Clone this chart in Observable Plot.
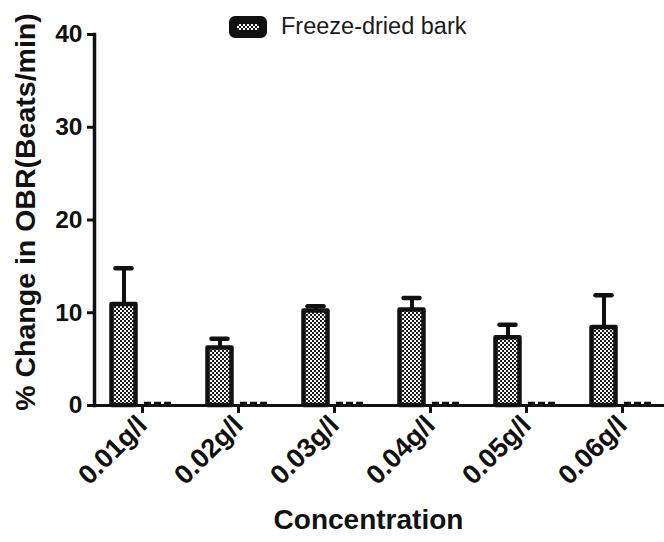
<!DOCTYPE html>
<html>
<head>
<meta charset="utf-8">
<script src="https://cdn.jsdelivr.net/npm/d3@7"></script>
<script src="https://cdn.jsdelivr.net/npm/@observablehq/plot@0.6"></script>
<style>
  html, body { margin: 0; padding: 0; background: #fff; }
  #wrap { position: relative; width: 664px; height: 542px; font-family: "Liberation Sans", Arial, sans-serif; }
  #legend { position: absolute; left: 229px; top: 13px; display: flex; align-items: center; gap: 14px; font-size: 23.5px; color: #1a1a1a; }
  #legend svg { display: block; }
</style>
</head>
<body>
<svg width="0" height="0" style="position:absolute">
  <defs>
    <pattern id="chk" patternUnits="userSpaceOnUse" width="4" height="4">
      <rect width="4" height="4" fill="#fff"/>
      <rect x="0" y="0" width="2" height="2" fill="#1a1a1a"/>
      <rect x="2" y="2" width="2" height="2" fill="#1a1a1a"/>
    </pattern>
  </defs>
</svg>
<div id="wrap">
  <div id="legend">
    <svg width="38" height="22"><rect x="4" y="4" width="30" height="14" rx="2" fill="url(#chk)" stroke="#111" stroke-width="8"/></svg>
    <span>Freeze-dried bark</span>
  </div>
  <div id="chart"></div>
</div>
<script>
const concentrations = ["0.01g/l", "0.02g/l", "0.03g/l", "0.04g/l", "0.05g/l", "0.06g/l"];
const barkMeans = [10.9, 6.2, 10.2, 10.3, 7.3, 8.4];
const barkErrors = [3.9, 1.0, 0.5, 1.3, 1.4, 3.5];
const controlValues = [0, 0, 0, 0, 0, 0];
const yTicks = [0, 10, 20, 30, 40];
const seriesName = "Freeze-dried bark";
const yLabel = "% Change in OBR(Beats/min)";
const xLabel = "Concentration";

const rows = concentrations.map((c, i) => ({
  conc: c, mean: barkMeans[i], err: barkErrors[i], top: barkMeans[i] + barkErrors[i], ctrl: controlValues[i]
}));

const ink = "#111";
const font = "'Liberation Sans', Arial, sans-serif";

const chart = Plot.plot({
  width: 664,
  height: 542,
  marginLeft: 94,
  marginRight: 0,
  marginTop: 34,
  marginBottom: 137,
  style: { fontFamily: font, color: ink, background: "transparent", overflow: "visible" },
  x: { domain: concentrations, range: [94, 670], padding: 0 },
  y: { domain: [0, 40], range: [405, 34] },
  marks: [
    Plot.ruleX(rows, { x: "conc", y1: "mean", y2: "top", dx: -18.5, stroke: ink, strokeWidth: 4 }),
    Plot.tickY(rows, { x: "conc", y: "top", insetLeft: 21.5, insetRight: 58.5, stroke: ink, strokeWidth: 4.5, strokeLinecap: "round" }),
    Plot.barY(rows, { x: "conc", y: "mean", insetLeft: 17.5, insetRight: 54.5, fill: "url(#chk)", stroke: ink, strokeWidth: 4.5, strokeLinejoin: "round" }),
    Plot.tickY(rows, { x: "conc", y: "ctrl", dy: -2.5, insetLeft: 50, insetRight: 16, stroke: ink, strokeWidth: 2.5, strokeDasharray: "7,3" }),
    Plot.ruleY([0], { stroke: ink, strokeWidth: 3 }),
    Plot.frame({ anchor: "left", stroke: ink, strokeWidth: 3.5 }),
    Plot.axisY({ ticks: yTicks, tickSize: 7, tickPadding: 5, strokeWidth: 3, fontSize: 24.5, fontWeight: "bold", label: null, tickFormat: d => d }),
    Plot.axisX({ tickSize: 8, tickPadding: 7, strokeWidth: 3, tickRotate: -45, fontSize: 27, fontWeight: "bold", label: null }),
    Plot.text([yLabel], { frameAnchor: "left", textAnchor: "middle", lineAnchor: "middle", rotate: -90, dx: -69, dy: -8, fontSize: 28.5, fontWeight: "bold", fill: ink }),
    Plot.text([xLabel], { frameAnchor: "bottom", textAnchor: "middle", lineAnchor: "middle", dx: -11, dy: 115, fontSize: 28, fontWeight: "bold", fill: ink })
  ]
});
document.getElementById("chart").appendChild(chart);
</script>
</body>
</html>
